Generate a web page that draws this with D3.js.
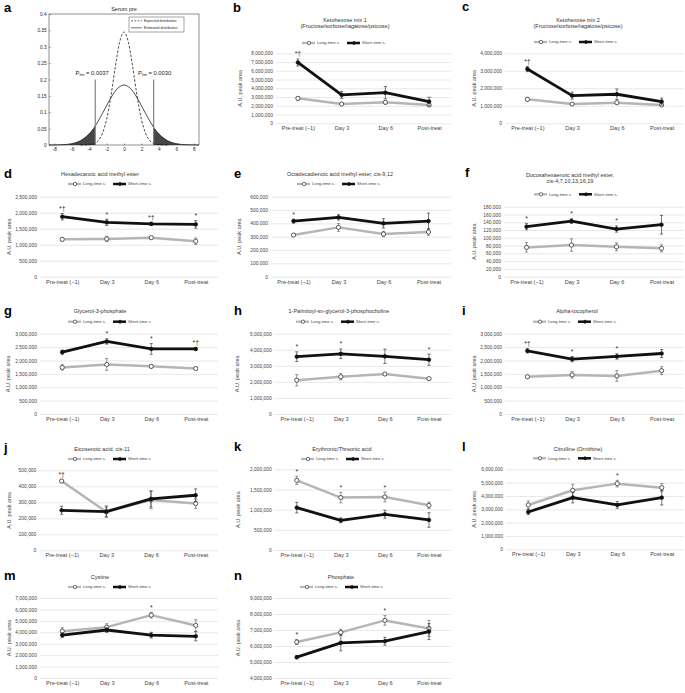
<!DOCTYPE html>
<html><head><meta charset="utf-8">
<script src="https://cdn.jsdelivr.net/npm/d3@7"></script>
<style>
body{margin:0;background:#fff}
svg{display:block}
text{font-family:"Liberation Sans",Arial,Helvetica,sans-serif}
</style>
</head><body>
<svg id="chart" width="685" height="693"></svg>
<script>
// ---------- shared categories ----------
const timepoints = ["Pre-treat (\u22121)", "Day 3", "Day 6", "Post-treat"];
const seriesNames = ["Long-time s.", "Short-time s."];

// ---------- panel a : distributions ----------
const aTitle = "Serum pre";
const aLegend = ["Expected distribution", "Estimated distribution"];
const aXTicks = [-8, -6, -4, -2, 0, 2, 4, 6, 8];
const aYTicks = [0, 0.05, 0.1, 0.15, 0.2, 0.25, 0.3, 0.35, 0.4];
const aExpX = [-5,-4.5,-4,-3.5,-3,-2.5,-2,-1.5,-1,-0.5,0,0.5,1,1.5,2,2.5,3,3.5,4,4.5,5];
const aExpY = [0,0.0002,0.0009,0.0036,0.012,0.034,0.078,0.149,0.238,0.314,0.345,0.314,0.238,0.149,0.078,0.034,0.012,0.0036,0.0009,0.0002,0];
const aEstX = [-8.6,-8,-7,-6,-5,-4,-3.5,-3.3,-3,-2.5,-2,-1.5,-1,-0.5,0,0.5,1,1.5,2,2.5,3,3.4,3.5,4,5,6,7,8,8.6];
const aEstY = [0.0001,0.0002,0.0010,0.0041,0.0132,0.034,0.050,0.058,0.071,0.095,0.120,0.144,0.165,0.178,0.183,0.178,0.165,0.144,0.120,0.095,0.071,0.054,0.050,0.034,0.0132,0.0041,0.0010,0.0002,0.0001];
const aCuts = [-3.3, 3.4];
const aCutTop = 0.2;
const aPvals = ["0.0037", "0.0030"];

// ---------- panel b ----------
const bTitle = ["Ketohexose mix 1", "(Fructose/sorbose/tagatose/psicose)"];
const bAxis = [0, 8000000, 1000000];
const bLong = [2850000, 2200000, 2400000, 2100000];
const bLongErr = [200000, 100000, 200000, 100000];
const bShort = [6950000, 3250000, 3500000, 2480000];
const bShortErr = [400000, 400000, 700000, 500000];
const bMarks = ["*\u2020", "", "", ""];
// ---------- panel c ----------
const cTitle = ["Ketohexose mix 2", "(Fructose/sorbose/tagatose/psicose)"];
const cAxis = [0, 4000000, 1000000];
const cLong = [1370000, 1100000, 1180000, 1050000];
const cLongErr = [80000, 50000, 60000, 50000];
const cShort = [3100000, 1580000, 1660000, 1240000];
const cShortErr = [150000, 200000, 300000, 200000];
const cMarks = ["*\u2020", "", "", ""];
// ---------- panel d ----------
const dTitle = ["Hexadecanoic acid methyl ester"];
const dAxis = [0, 2500000, 500000];
const dLong = [1167000, 1180000, 1220000, 1110000];
const dLongErr = [50000, 80000, 30000, 100000];
const dShort = [1875000, 1700000, 1650000, 1635000];
const dShortErr = [100000, 100000, 50000, 120000];
const dMarks = ["*\u2020", "*", "*\u2020", "*"];
// ---------- panel e ----------
const eTitle = ["Octadecadienoic acid methyl ester, cis-9,12"];
const eAxis = [0, 600000, 100000];
const eLong = [312000, 370000, 320000, 335000];
const eLongErr = [10000, 30000, 20000, 25000];
const eShort = [417000, 445000, 400000, 417000];
const eShortErr = [15000, 20000, 35000, 60000];
const eMarks = ["*", "", "", ""];
// ---------- panel f ----------
const fTitle = ["Docosahexaenoic acid methyl ester,", "cis-4,7,10,13,16,19"];
const fAxis = [0, 180000, 20000];
const fLong = [75400, 81400, 77000, 72900];
const fLongErr = [12000, 16000, 10000, 9000];
const fShort = [128600, 143000, 122600, 133700];
const fShortErr = [8000, 6000, 8000, 24000];
const fMarks = ["*", "*", "*", ""];
// ---------- panel g ----------
const gTitle = ["Glycerol-3-phosphate"];
const gAxis = [0, 3000000, 500000];
const gLong = [1740000, 1850000, 1780000, 1700000];
const gLongErr = [100000, 220000, 70000, 30000];
const gShort = [2310000, 2710000, 2430000, 2430000];
const gShortErr = [80000, 100000, 200000, 50000];
const gMarks = ["", "*", "*", "*\u2020"];
// ---------- panel h ----------
const hTitle = ["1-Palmitoyl-sn-glycerol-3-phosphocholine"];
const hAxis = [0, 5000000, 1000000];
const hLong = [2100000, 2320000, 2490000, 2200000];
const hLongErr = [350000, 200000, 50000, 50000];
const hShort = [3570000, 3750000, 3590000, 3380000];
const hShortErr = [300000, 300000, 450000, 350000];
const hMarks = ["*", "*", "", "*"];
// ---------- panel i ----------
const iTitle = ["Alpha-tocopherol"];
const iAxis = [0, 3000000, 500000];
const iLong = [1390000, 1460000, 1420000, 1620000];
const iLongErr = [30000, 120000, 200000, 150000];
const iShort = [2360000, 2050000, 2150000, 2260000];
const iShortErr = [80000, 100000, 100000, 150000];
const iMarks = ["*\u2020", "*", "*", ""];
// ---------- panel j ----------
const jTitle = ["Eicosenoic acid, cis-11"];
const jAxis = [0, 500000, 100000];
const jLong = [433000, 240000, 315000, 292000];
const jLongErr = [10000, 30000, 55000, 30000];
const jShort = [250000, 242000, 321000, 344000];
const jShortErr = [25000, 35000, 50000, 40000];
const jMarks = ["*\u2020", "", "", ""];
// ---------- panel k ----------
const kTitle = ["Erythronic/Threonic acid"];
const kAxis = [0, 2000000, 500000];
const kLong = [1727000, 1300000, 1314000, 1107000];
const kLongErr = [100000, 130000, 120000, 80000];
const kShort = [1050000, 735000, 885000, 744000];
const kShortErr = [130000, 60000, 100000, 180000];
const kMarks = ["*", "*", "*", ""];
// ---------- panel l ----------
const lTitle = ["Citrulline (Ornithine)"];
const lAxis = [0, 6000000, 1000000];
const lLong = [3325000, 4425000, 4925000, 4625000];
const lLongErr = [300000, 450000, 250000, 300000];
const lShort = [2800000, 3875000, 3325000, 3875000];
const lShortErr = [200000, 400000, 250000, 550000];
const lMarks = ["", "", "*", ""];
// ---------- panel m ----------
const mTitle = ["Cystine"];
const mAxis = [0, 7000000, 1000000];
const mLong = [4100000, 4450000, 5500000, 4600000];
const mLongErr = [300000, 300000, 250000, 500000];
const mShort = [3750000, 4200000, 3750000, 3650000];
const mShortErr = [200000, 200000, 250000, 400000];
const mMarks = ["", "", "*", ""];
// ---------- panel n ----------
const nTitle = ["Phosphate"];
const nAxis = [4000000, 9000000, 1000000];
const nLong = [6250000, 6850000, 7600000, 7100000];
const nLongErr = [150000, 200000, 300000, 500000];
const nShort = [5300000, 6200000, 6300000, 6900000];
const nShortErr = [100000, 500000, 250000, 500000];
const nMarks = ["*", "", "*", ""];

// ---------- layout (positions only) ----------
const panels = [
  {id:"b", title:bTitle, axis:bAxis, long:bLong, longErr:bLongErr, short:bShort, shortErr:bShortErr, marks:bMarks,
   L:276, R:451, top:53.3, bot:123.3, lx:233, ly:12, tx:345, ty:22, gx:302, gy:43, yx:242},
  {id:"c", title:cTitle, axis:cAxis, long:cLong, longErr:cLongErr, short:cShort, shortErr:cShortErr, marks:cMarks,
   L:505, R:684, top:53.3, bot:123.3, lx:462, ly:11, tx:578, ty:22, gx:534, gy:42, yx:476},
  {id:"d", title:dTitle, axis:dAxis, long:dLong, longErr:dLongErr, short:dShort, shortErr:dShortErr, marks:dMarks,
   L:40, R:218, top:196.7, bot:276.7, lx:4, ly:178, tx:100, ty:176.3, gx:68, gy:184, yx:11},
  {id:"e", title:eTitle, axis:eAxis, long:eLong, longErr:eLongErr, short:eShort, shortErr:eShortErr, marks:eMarks,
   L:271, R:451, top:196.7, bot:276.7, lx:234, ly:177.5, tx:340, ty:176, gx:297, gy:184, yx:241},
  {id:"f", title:fTitle, axis:fAxis, long:fLong, longErr:fLongErr, short:fShort, shortErr:fShortErr, marks:fMarks,
   L:504, R:684, top:206.7, bot:276.7, lx:465, ly:177, tx:570, ty:177, gx:534, gy:194.3, yx:476},
  {id:"g", title:gTitle, axis:gAxis, long:gLong, longErr:gLongErr, short:gShort, shortErr:gShortErr, marks:gMarks,
   L:40, R:218, top:333.7, bot:414, lx:4, ly:315, tx:100, ty:313.3, gx:68, gy:321.7, yx:10},
  {id:"h", title:hTitle, axis:hAxis, long:hLong, longErr:hLongErr, short:hShort, shortErr:hShortErr, marks:hMarks,
   L:274.7, R:451, top:333.7, bot:414, lx:234, ly:315, tx:339, ty:313.3, gx:296, gy:321.7, yx:239},
  {id:"i", title:iTitle, axis:iAxis, long:iLong, longErr:iLongErr, short:iShort, shortErr:iShortErr, marks:iMarks,
   L:505, R:684, top:333.7, bot:414, lx:462, ly:315, tx:577, ty:313.3, gx:533, gy:321.7, yx:476},
  {id:"j", title:jTitle, axis:jAxis, long:jLong, longErr:jLongErr, short:jShort, shortErr:jShortErr, marks:jMarks,
   L:39.3, R:218, top:470.3, bot:550.3, lx:4, ly:452, tx:102, ty:450.7, gx:68, gy:459, yx:11},
  {id:"k", title:kTitle, axis:kAxis, long:kLong, longErr:kLongErr, short:kShort, shortErr:kShortErr, marks:kMarks,
   L:274.7, R:451, top:469.3, bot:550, lx:234, ly:451, tx:342, ty:450.7, gx:301, gy:459, yx:240},
  {id:"l", title:lTitle, axis:lAxis, long:lLong, longErr:lLongErr, short:lShort, shortErr:lShortErr, marks:lMarks,
   L:506, R:684, top:469.3, bot:549.3, lx:462, ly:451, tx:578, ty:450.7, gx:533, gy:458.3, yx:476},
  {id:"m", title:mTitle, axis:mAxis, long:mLong, longErr:mLongErr, short:mShort, shortErr:mShortErr, marks:mMarks,
   L:40, R:218, top:598, bot:678, lx:4, ly:580, tx:100, ty:579, gx:68, gy:587, yx:11},
  {id:"n", title:nTitle, axis:nAxis, long:nLong, longErr:nLongErr, short:nShort, shortErr:nShortErr, marks:nMarks,
   L:274.7, R:451, top:598, bot:678, lx:234, ly:580, tx:341, ty:579, gx:300, gy:587, yx:240}
];

const svg = d3.select("#chart");
const GRAY = "#b5b5b5", BLACK = "#111", TXT = "#444";
const FONT = "Liberation Sans, Arial, sans-serif";

function panelLetter(s, x, y) {
  svg.append("text").attr("x", x).attr("y", y).attr("font-size", 13).attr("font-weight", "bold")
    .attr("fill", "#000").text(s);
}

// ---------- draw panel a ----------
(function drawA() {
  const L = 49, R = 199, T = 14, B = 145;
  const x = d3.scaleLinear().domain([-8.6, 8.6]).range([L, R]);
  const y = d3.scaleLinear().domain([0, 0.4]).range([B, T]);
  const g = svg.append("g");
  const defs = svg.append("defs");
  const pat = defs.append("pattern").attr("id", "hatch").attr("patternUnits", "userSpaceOnUse")
    .attr("width", 1.8).attr("height", 1.8);
  pat.append("rect").attr("width", 1.8).attr("height", 1.8).attr("fill", "#fff");
  pat.append("path").attr("d", "M0,0L1.8,1.8M1.8,0L0,1.8").attr("stroke", "#111").attr("stroke-width", 0.7);

  panelLetter("a", 4, 12);
  g.append("text").attr("x", (L + R) / 2).attr("y", 11).attr("text-anchor", "middle")
    .attr("font-size", 5.5).attr("fill", "#222").text(aTitle);

  const est = aEstX.map((v, i) => [v, aEstY[i]]);
  const exp = aExpX.map((v, i) => [v, aExpY[i]]);
  const area = d3.area().x(d => x(d[0])).y0(y(0)).y1(d => y(d[1])).curve(d3.curveMonotoneX);
  g.append("path").datum(est.filter(d => d[0] <= aCuts[0])).attr("d", area).attr("fill", "url(#hatch)");
  g.append("path").datum(est.filter(d => d[0] >= aCuts[1])).attr("d", area).attr("fill", "url(#hatch)");

  const line = d3.line().x(d => x(d[0])).y(d => y(d[1])).curve(d3.curveMonotoneX);
  g.append("path").datum(exp).attr("d", line).attr("fill", "none").attr("stroke", "#111")
    .attr("stroke-width", 0.75).attr("stroke-dasharray", "2.6,1.6");
  g.append("path").datum(est).attr("d", line).attr("fill", "none").attr("stroke", "#111").attr("stroke-width", 0.75);

  aCuts.forEach((c, i) => {
    g.append("line").attr("x1", x(c)).attr("x2", x(c)).attr("y1", y(0)).attr("y2", y(aCutTop))
      .attr("stroke", "#7a7a7a").attr("stroke-width", 1.1);
    const t = g.append("text").attr("x", x(c) + (i === 0 ? -3 : 1)).attr("y", y(aCutTop) - 4.5)
      .attr("text-anchor", "middle").attr("font-size", 5.8).attr("fill", "#222");
    t.append("tspan").text("P");
    t.append("tspan").attr("font-size", 3.9).attr("dy", 1.3).text("lim");
    t.append("tspan").attr("dy", -1.3).text(" = " + aPvals[i]);
  });

  // frame
  g.append("rect").attr("x", L).attr("y", T).attr("width", R - L).attr("height", B - T)
    .attr("fill", "none").attr("stroke", "#222").attr("stroke-width", 0.5);
  const ax = d3.axisBottom(x).tickValues(aXTicks).tickSize(-1.5).tickPadding(3).tickFormat(d3.format("d"));
  const ay = d3.axisLeft(y).tickValues(aYTicks).tickSize(-1.5).tickPadding(2.5).tickFormat(d => d === 0 ? "0" : d3.format(".2~f")(d));
  const gx = g.append("g").attr("transform", `translate(0,${B})`).call(ax);
  const gy = g.append("g").attr("transform", `translate(${L},0)`).call(ay);
  [gx, gy].forEach(a => {
    a.select(".domain").remove();
    a.selectAll("line").attr("stroke", "#222").attr("stroke-width", 0.5);
    a.selectAll("text").attr("font-size", 4.7).attr("fill", "#222").attr("font-family", FONT);
  });
  gx.selectAll("text").text(d => d < 0 ? "-" + Math.abs(d) : d);

  // legend
  const lg = g.append("g").attr("transform", "translate(129,17)");
  lg.append("rect").attr("width", 55).attr("height", 15).attr("fill", "#fff").attr("stroke", "#222").attr("stroke-width", 0.4);
  [0, 1].forEach(i => {
    lg.append("line").attr("x1", 2).attr("x2", 13).attr("y1", 3.8 + i * 7).attr("y2", 3.8 + i * 7)
      .attr("stroke", "#111").attr("stroke-width", 0.6).attr("stroke-dasharray", i === 0 ? "2,1.2" : null);
    lg.append("text").attr("x", 15).attr("y", 5 + i * 7).attr("font-size", 3.5).attr("fill", "#222").text(aLegend[i]);
  });
})();

// ---------- draw line panels ----------
function drawPanel(p) {
  const g = svg.append("g");
  const x = d3.scalePoint().domain(timepoints).range([p.L, p.R]).padding(0.5);
  const [y0, y1, step] = p.axis;
  const y = d3.scaleLinear().domain([y0, y1]).range([p.bot, p.top]);
  const ticks = d3.range(y0, y1 + step / 2, step);

  panelLetter(p.id, p.lx, p.ly);
  p.title.forEach((t, i) => g.append("text").attr("x", p.tx).attr("y", p.ty + i * 6.3)
    .attr("text-anchor", "middle").attr("font-size", 5.5).attr("fill", "#333").text(t));

  // y axis with gridlines
  const ay = d3.axisLeft(y).tickValues(ticks).tickSize(-(p.R - p.L)).tickPadding(3).tickFormat(d3.format(","));
  const gy = g.append("g").attr("transform", `translate(${p.L},0)`).call(ay);
  gy.select(".domain").remove();
  gy.selectAll("line").attr("stroke", "#d9d9d9").attr("stroke-width", 0.6);
  gy.selectAll("text").attr("font-size", 4.9).attr("fill", TXT).attr("font-family", FONT);

  const ax = d3.axisBottom(x).tickSize(0).tickPadding(3);
  const gx = g.append("g").attr("transform", `translate(0,${p.bot})`).call(ax);
  gx.select(".domain").remove();
  gx.selectAll("text").attr("font-size", 5.6).attr("fill", TXT).attr("font-family", FONT);

  g.append("text").attr("transform", `translate(${p.yx},${(p.top + p.bot) / 2}) rotate(-90)`)
    .attr("text-anchor", "middle").attr("font-size", 5.5).attr("fill", TXT).text("A.U. peak area");

  const line = d3.line().x((d, i) => x(timepoints[i])).y(d => y(d));
  function series(vals, errs, isLong) {
    g.append("path").datum(vals).attr("d", line).attr("fill", "none")
      .attr("stroke", isLong ? GRAY : BLACK).attr("stroke-width", isLong ? 2.5 : 2.8).attr("stroke-linejoin", "round");
    vals.forEach((v, i) => {
      const cx = x(timepoints[i]);
      const e = errs[i];
      const col = isLong ? "#555" : "#222";
      g.append("line").attr("x1", cx).attr("x2", cx).attr("y1", y(v - e)).attr("y2", y(v + e))
        .attr("stroke", col).attr("stroke-width", 0.6);
      [v - e, v + e].forEach(w => g.append("line").attr("x1", cx - 1.6).attr("x2", cx + 1.6)
        .attr("y1", y(w)).attr("y2", y(w)).attr("stroke", col).attr("stroke-width", 0.6));
    });
    g.selectAll(null).data(vals).join("circle")
      .attr("cx", (d, i) => x(timepoints[i])).attr("cy", d => y(d))
      .attr("r", isLong ? 2.1 : 1.8)
      .attr("fill", isLong ? "#fff" : BLACK).attr("stroke", isLong ? "#333" : BLACK).attr("stroke-width", 0.8);
  }
  series(p.long, p.longErr, true);
  series(p.short, p.shortErr, false);

  // significance marks
  p.marks.forEach((m, i) => {
    if (!m) return;
    const topVal = Math.max(p.long[i] + p.longErr[i], p.short[i] + p.shortErr[i]);
    g.append("text").attr("x", x(timepoints[i])).attr("y", y(topVal) - 2.5)
      .attr("text-anchor", "middle").attr("font-size", 6.8).attr("fill", "#333").text(m);
  });

  // legend
  const lg = g.append("g").attr("transform", `translate(${p.gx},${p.gy})`);
  [0, 1].forEach(i => {
    const ox = i * 45;
    lg.append("line").attr("x1", ox).attr("x2", ox + 13).attr("y1", 0).attr("y2", 0)
      .attr("stroke", i === 0 ? GRAY : BLACK).attr("stroke-width", i === 0 ? 2.2 : 2.5);
    lg.append("circle").attr("cx", ox + 7).attr("cy", 0).attr("r", i === 0 ? 1.7 : 1.5)
      .attr("fill", i === 0 ? "#fff" : BLACK).attr("stroke", i === 0 ? "#333" : BLACK).attr("stroke-width", 0.7);
    lg.append("text").attr("x", ox + 15).attr("y", 1.4).attr("font-size", 4.2).attr("fill", TXT).text(seriesNames[i]);
  });
}
panels.forEach(drawPanel);
</script>
</body></html>
